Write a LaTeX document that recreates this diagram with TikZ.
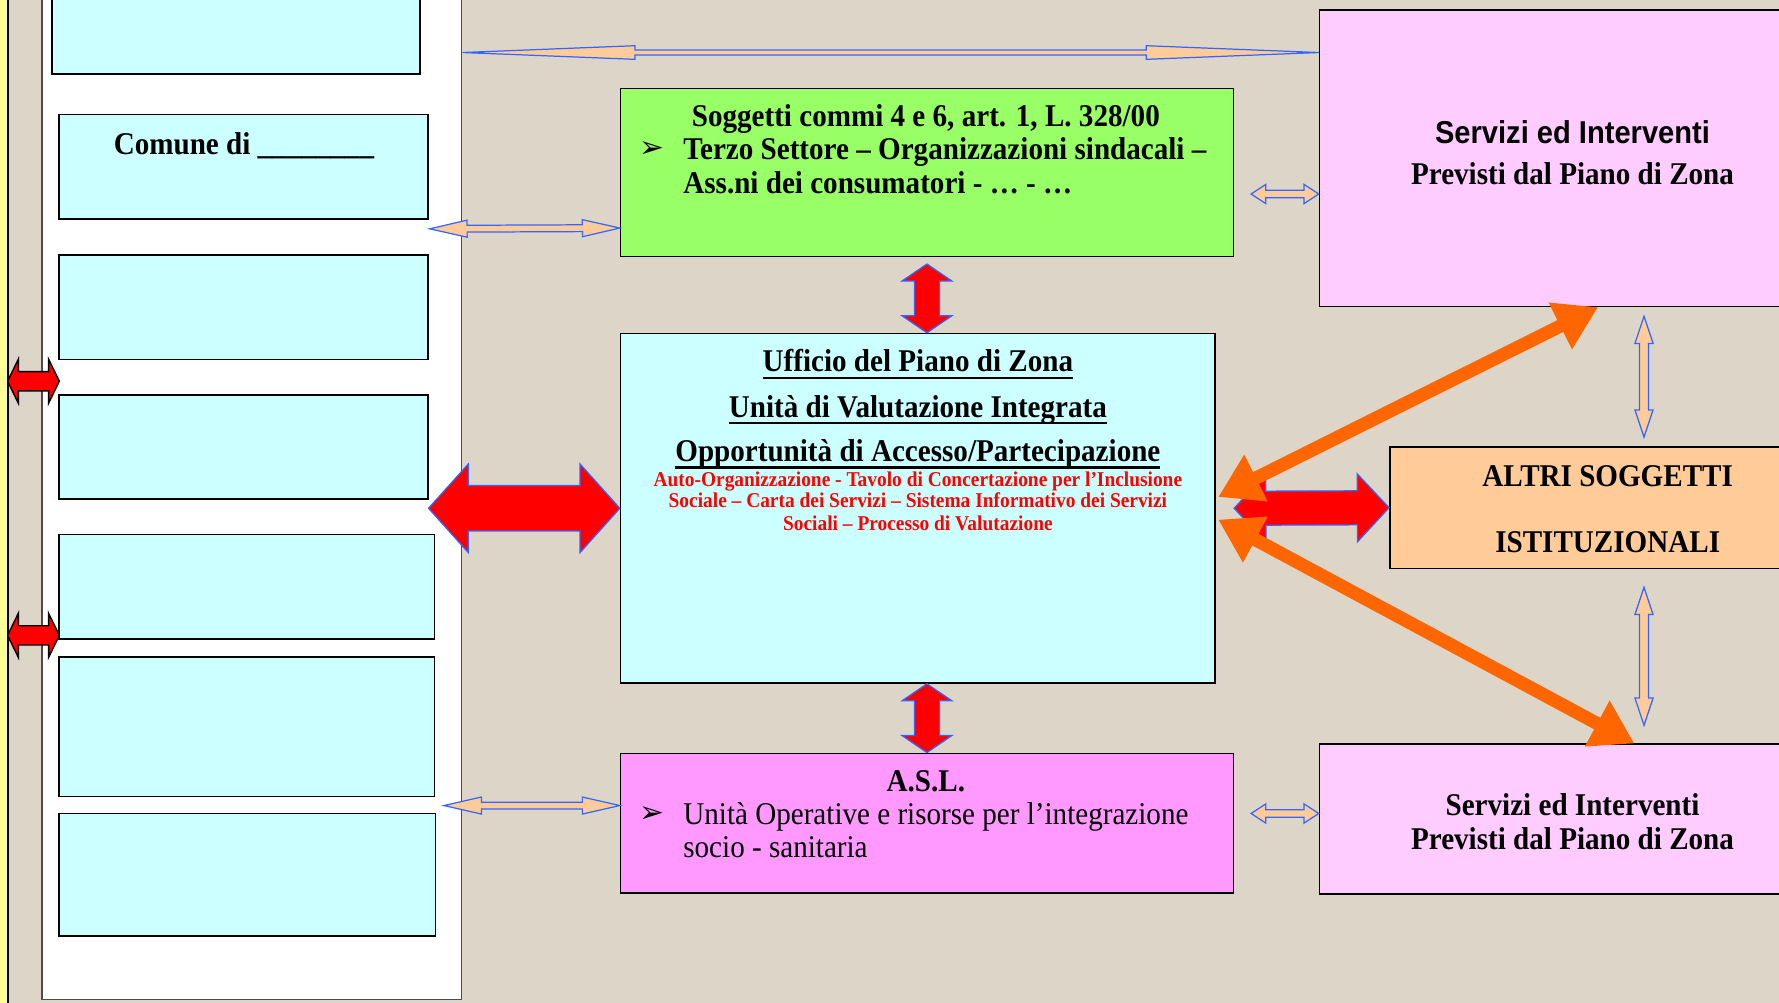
\documentclass[tikz,border=0pt]{standalone}
\usepackage{fontspec}
\setmainfont{Liberation Serif}[FakeStretch=0.92]
\setsansfont{Liberation Sans}[FakeStretch=0.92]
\newfontfamily\arrowfont{DejaVu Sans}
\usetikzlibrary{calc, arrows.meta}

\definecolor{sfondo}{RGB}{221,213,199}
\definecolor{giallo}{RGB}{255,255,153}
\definecolor{azzurro}{RGB}{204,255,255}
\definecolor{verde}{RGB}{153,255,102}
\definecolor{rosa}{RGB}{255,153,255}
\definecolor{rosachiaro}{RGB}{255,204,255}
\definecolor{pesca}{RGB}{255,204,153}
\definecolor{bordoblu}{RGB}{51,102,255}
\definecolor{arancio}{RGB}{255,102,0}

\newcommand{\pxu}{0.6456pt}

% block double arrow: [style]{from}{to}{head length}{head half width}{shaft half width}
\newcommand{\dblarrow}[6][]{%
  \coordinate (dA) at #2;
  \coordinate (dB) at #3;
  \coordinate (dA1) at ($(dA)!#4*\pxu!(dB)$);
  \coordinate (dB1) at ($(dB)!#4*\pxu!(dA)$);
  \draw[#1] (dA) -- ($(dA1)!#5*\pxu!90:(dB)$) -- ($(dA1)!#6*\pxu!90:(dB)$)
    -- ($(dB1)!#6*\pxu!-90:(dA)$) -- ($(dB1)!#5*\pxu!-90:(dA)$) -- (dB)
    -- ($(dB1)!#5*\pxu!90:(dA)$) -- ($(dB1)!#6*\pxu!90:(dA)$)
    -- ($(dA1)!#6*\pxu!-90:(dB)$) -- ($(dA1)!#5*\pxu!-90:(dB)$) -- cycle;
}

\tikzset{
  box/.style={draw=black, line width=0.9pt, inner sep=0pt},
  cella/.style={box, fill=azzurro},
  testo/.style={inner sep=0pt, font=\fontsize{18}{19.5}\selectfont\bfseries},
  testonorm/.style={inner sep=0pt, font=\fontsize{18}{19.5}\selectfont},
  testorosso/.style={inner sep=0pt, text=red, font=\fontsize{12}{13}\selectfont\bfseries},
  frecciarossa/.style={fill=red, draw=bordoblu, line width=0.7pt},
  frecciasin/.style={fill=red, draw=black, line width=0.8pt},
  frecciasottile/.style={fill=pesca, draw=bordoblu, line width=0.7pt},
  frecciaarancio/.style={draw=arancio, line width=7.5pt,
    {Triangle[length=24pt,width=28pt]}-{Triangle[length=24pt,width=28pt]}},
}

\newcommand{\sottolinea}[1]{\setbox0\hbox{#1}\rlap{\rule[-4.2pt]{\wd0}{1.4pt}}\box0}

\begin{document}
\begin{tikzpicture}[x=0.02269cm, y=-0.02269cm]

    % Page and background
    \useasboundingbox (0,0) rectangle (1568,884);
    \clip (0,0) rectangle (1568,884);
    \fill[sfondo] (0,0) rectangle (1568,884);

    % Left column with the municipalities
    \node[box, fill=giallo, minimum width=12*\pxu, minimum height=904*\pxu] (striscia) at (1,442) {};
    \node[draw=black!70, line width=0.8pt, fill=white, minimum width=370*\pxu, minimum height=896*\pxu] (pannello) at (222,433) {};

    \node[cella, minimum width=324*\pxu, minimum height=85*\pxu] (comune1) at (208,22.5) {};
    \node[cella, minimum width=325*\pxu, minimum height=92*\pxu] (comune2) at (214.5,147) {};
    \node[cella, minimum width=325*\pxu, minimum height=92*\pxu] (comune3) at (214.5,271) {};
    \node[cella, minimum width=325*\pxu, minimum height=92*\pxu] (comune4) at (214.5,394) {};
    \node[cella, minimum width=331*\pxu, minimum height=92*\pxu] (comune5) at (217.5,517) {};
    \node[cella, minimum width=331*\pxu, minimum height=123*\pxu] (comune6) at (217.5,640.5) {};
    \node[cella, minimum width=332*\pxu, minimum height=108*\pxu] (comune7) at (218,771) {};

    \node[testo, anchor=mid] (tcomune) at (215,133) {Comune di \_\_\_\_\_\_\_\_};

    % Central boxes
    \node[box, fill=verde, minimum width=540*\pxu, minimum height=148*\pxu] (soggetti) at (817,152) {};
    \node[box, fill=azzurro, minimum width=524*\pxu, minimum height=308*\pxu] (ufficio) at (809,448) {};
    \node[box, fill=rosa, minimum width=540*\pxu, minimum height=123*\pxu] (asl) at (817,725.5) {};

    \node[testo, anchor=mid] (sog1) at (816,108) {Soggetti commi 4 e 6, art. 1, L. 328/00};
    \node[testo, anchor=mid west] (sogb) at (563,135) {\arrowfont\mdseries\fontsize{17}{17}\selectfont ➢};
    \node[testo, anchor=mid west] (sog2) at (602,137) {Terzo Settore – Organizzazioni sindacali –};
    \node[testo, anchor=mid west] (sog3) at (602,167) {Ass.ni dei consumatori - … - …};

    \node[testo, anchor=mid] (upz1) at (809,324) {\sottolinea{Ufficio del Piano di Zona}};
    \node[testo, anchor=mid] (upz2) at (809,364) {\sottolinea{Unità di Valutazione Integrata}};
    \node[testo, anchor=mid] (upz3) at (809,403) {\sottolinea{Opportunità di Accesso/Partecipazione}};
    \node[testorosso, anchor=mid] (rosso1) at (809,425) {Auto-Organizzazione - Tavolo di Concertazione per l’Inclusione};
    \node[testorosso, anchor=mid] (rosso2) at (809,444) {Sociale – Carta dei Servizi – Sistema Informativo dei Servizi};
    \node[testorosso, anchor=mid] (rosso3) at (809,464) {Sociali – Processo di Valutazione};

    \node[testo, anchor=mid] (asl1) at (816,694) {A.S.L.};
    \node[testonorm, anchor=mid west] (aslb) at (563,721) {\arrowfont\fontsize{17}{17}\selectfont ➢};
    \node[testonorm, anchor=mid west] (asl2) at (602,723) {Unità Operative e risorse per l’integrazione};
    \node[testonorm, anchor=mid west] (asl3) at (602,752) {socio - sanitaria};

    % Right boxes
    \node[box, fill=rosachiaro, minimum width=447*\pxu, minimum height=261*\pxu] (servizi1) at (1386.5,139.5) {};
    \node[box, fill=pesca, minimum width=385*\pxu, minimum height=107*\pxu] (altri) at (1417.5,447.5) {};
    \node[box, fill=rosachiaro, minimum width=447*\pxu, minimum height=132*\pxu] (servizi2) at (1386.5,722) {};

    \node[testo, anchor=mid] (serv1a) at (1386,123) {\sffamily Servizi ed Interventi};
    \node[testo, anchor=mid] (serv1b) at (1386,159) {Previsti dal Piano di Zona};
    \node[testo, anchor=mid] (altri1) at (1417,425) {ALTRI SOGGETTI};
    \node[testo, anchor=mid] (altri2) at (1417,483) {ISTITUZIONALI};
    \node[testo, anchor=mid] (serv2a) at (1386,715) {Servizi ed Interventi};
    \node[testo, anchor=mid] (serv2b) at (1386,745) {Previsti dal Piano di Zona};

    % Thin arrows
    \dblarrow[frecciasottile]{($(pannello.east|-servizi1.north)+(0,38)$)}{($(servizi1.north west)+(0,38)$)}{152}{6}{2.2}
    \dblarrow[frecciasottile]{($(comune2.south east)+(1,8)$)}{($(soggetti.west)+(0,49)$)}{33}{7.5}{3}
    \dblarrow[frecciasottile]{($(asl.west)+(-155,-15.5)$)}{($(asl.west)+(0,-15.5)$)}{33}{7.5}{3}
    \dblarrow[frecciasottile]{($(soggetti.east)+(15,19)$)}{($(servizi1.west)+(0,31.5)$)}{13}{8.5}{3.3}
    \dblarrow[frecciasottile]{($(asl.east)+(15,-8.5)$)}{($(servizi2.west)+(0,-5)$)}{13}{8.5}{3.3}
    \dblarrow[frecciasottile]{($(servizi1.south)+(62.5,8)$)}{($(altri.north)+(31.5,-8)$)}{24}{8}{4}
    \dblarrow[frecciasottile]{($(altri.south)+(31.5,16)$)}{($(servizi2.north)+(62.5,-16)$)}{24}{8}{4}

    % Red arrows
    \dblarrow[frecciasin]{($(striscia.east)+(-1,-106)$)}{($(comune4.west)+(1,-58)$)}{9.5}{19.5}{8.5}
    \dblarrow[frecciasin]{($(striscia.east)+(-1,118)$)}{($(comune5.west)+(1,43)$)}{9.5}{19.5}{8.5}
    \dblarrow[frecciarossa]{(comune4.east|-ufficio.west)}{(ufficio.west)}{35}{39}{20}
    \dblarrow[frecciarossa]{($(soggetti.south)+(0,6)$)}{(ufficio.north-|soggetti.south)}{15}{22}{11}
    \dblarrow[frecciarossa]{(ufficio.south-|asl.north)}{(asl.north)}{15}{22}{11}
    \dblarrow[frecciarossa]{($(ufficio.east)+(16,0)$)}{(altri.west)}{28}{30}{15}

    % Orange arrows
    \draw[frecciaarancio] ($(ufficio.east)+(2,-10)$) -- ($(servizi1.south)+(22,0)$);
    \draw[frecciaarancio] ($(ufficio.east)+(2,10)$) -- ($(servizi2.north)+(54,0)$);

\end{tikzpicture}
\end{document}
